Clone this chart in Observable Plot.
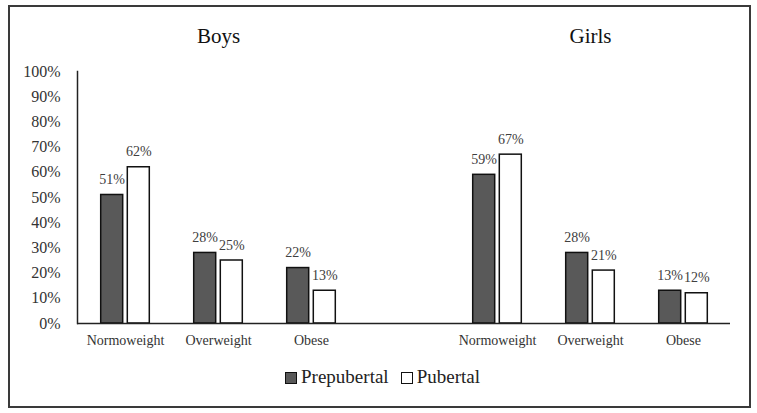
<!DOCTYPE html>
<html>
<head>
<meta charset="utf-8">
<script src="https://cdn.jsdelivr.net/npm/d3@7"></script>
<script src="https://cdn.jsdelivr.net/npm/@observablehq/plot@0.6"></script>
<style>
  html, body { margin: 0; padding: 0; background: #fff; }
  #page { position: relative; width: 757px; height: 413px; font-family: 'Liberation Serif', 'DejaVu Serif', serif; }
  #border { position: absolute; left: 8px; top: 5px; width: 743px; height: 403px; box-sizing: border-box; border: 2px solid #3a3a3a; }
  #chart { position: absolute; left: 0; top: 0; }
  #legend { position: absolute; left: 0; width: 757px; top: 366px; display: flex; justify-content: center; font-family: 'Liberation Serif', 'DejaVu Serif', serif; font-size: 19px; color: #222; padding-left: 8px; box-sizing: border-box; }
  .item { display: flex; align-items: center; margin: 0 6px; }
  .sw { width: 10px; height: 10px; border: 1.5px solid #111; margin-right: 4px; margin-top: 1px; }
</style>
</head>
<body>
<div id="page">
  <div id="border"></div>
  <div id="chart"></div>
  <div id="legend"></div>
</div>
<script>
const groups = ["Boys", "Girls"];
const categories = ["Normoweight", "Overweight", "Obese"];
const stages = ["Prepubertal", "Pubertal"];
const boysPrepubertal = [51, 28, 22];
const boysPubertal = [62, 25, 13];
const girlsPrepubertal = [59, 28, 13];
const girlsPubertal = [67, 21, 12];
const yTicks = [0, 10, 20, 30, 40, 50, 60, 70, 80, 90, 100];
const stageColors = ["#595959", "#ffffff"];

const series = {
  Boys: [boysPrepubertal, boysPubertal],
  Girls: [girlsPrepubertal, girlsPubertal]
};
const slots = [
  ...categories.map(c => "Boys|" + c),
  "gap",
  ...categories.map(c => "Girls|" + c)
];
const rows = [];
for (const g of groups) {
  categories.forEach((c, i) => {
    stages.forEach((s, j) => {
      rows.push({slot: g + "|" + c, stage: s, value: series[g][j][i]});
    });
  });
}
const pre = rows.filter(d => d.stage === "Prepubertal");
const pub = rows.filter(d => d.stage === "Pubertal");
const off = 13.3;

const chart = Plot.plot({
  width: 757,
  height: 360,
  marginTop: 71,
  marginBottom: 37,
  marginLeft: 77,
  marginRight: 27,
  style: {fontFamily: "'Liberation Serif', 'DejaVu Serif', serif", background: "transparent", color: "#333"},
  x: {domain: slots, paddingInner: 0.764, paddingOuter: 0.382, align: 0.5, label: null},
  y: {domain: [0, 100], label: null},
  color: {domain: stages, range: stageColors},
  marks: [
    Plot.axisX({tickSize: 0, tickPadding: 12, fontSize: 14, tickFormat: d => d === "gap" ? "" : d.split("|")[1], fill: "#333"}),
    Plot.axisY({ticks: yTicks, tickSize: 0, tickPadding: 17, fontSize: 16, tickFormat: d => d + "%", fill: "#333"}),
    Plot.barY(pre, {x: "slot", y: "value", fill: "stage", stroke: "#111", strokeWidth: 1.5, dx: -off}),
    Plot.barY(pub, {x: "slot", y: "value", fill: "stage", stroke: "#111", strokeWidth: 1.5, dx: off}),
    Plot.text(pre, {x: "slot", y: "value", text: d => d.value + "%", dx: -off, dy: -11, lineAnchor: "bottom", fontSize: 14, fill: "#404040"}),
    Plot.text(pub, {x: "slot", y: "value", text: d => d.value + "%", dx: off, dy: -11, lineAnchor: "bottom", fontSize: 14, fill: "#404040"}),
    Plot.ruleY([0], {stroke: "#222", strokeWidth: 1.5}),
    Plot.frame({anchor: "left", stroke: "#222", strokeWidth: 1.5}),
    Plot.text(groups, {x: d => d + "|Overweight", text: d => d, frameAnchor: "top", lineAnchor: "bottom", dy: -29, fontSize: 21, fill: "#111"})
  ]
});
document.getElementById("chart").appendChild(chart);

const legend = document.getElementById("legend");
stages.forEach((s, i) => {
  const item = document.createElement("div");
  item.className = "item";
  const sw = document.createElement("span");
  sw.className = "sw";
  sw.style.background = stageColors[i];
  const label = document.createElement("span");
  label.textContent = s;
  item.appendChild(sw);
  item.appendChild(label);
  legend.appendChild(item);
});
</script>
</body>
</html>
